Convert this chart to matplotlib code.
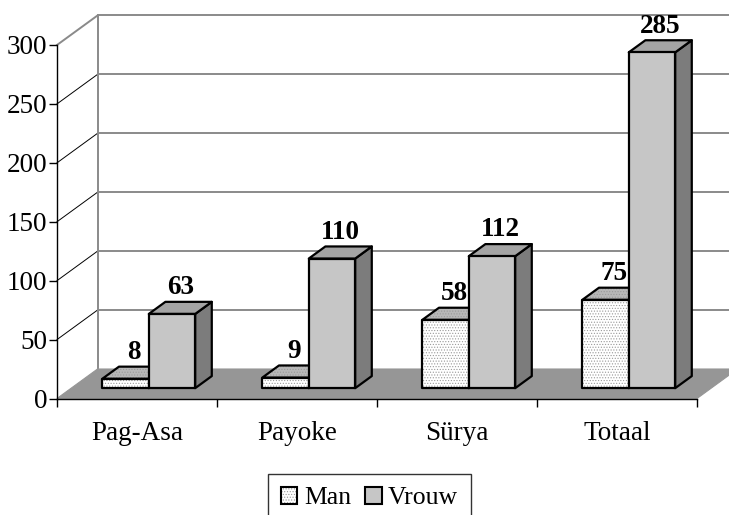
import matplotlib
matplotlib.use("Agg")
import matplotlib.pyplot as plt
from matplotlib.patches import Polygon, Patch
from matplotlib.legend_handler import HandlerTuple

categories = ["Pag-Asa", "Payoke", "Sürya", "Totaal"]
series_names = ["Man", "Vrouw"]
man = [8, 9, 58, 75]
vrouw = [63, 110, 112, 285]
yticks = [0, 50, 100, 150, 200, 250, 300]

plt.rcParams['font.family'] = ['Liberation Serif', 'DejaVu Serif']
plt.rcParams['hatch.linewidth'] = 0.5

W, H = 729, 515
fig = plt.figure(figsize=(W / 100, H / 100), dpi=100)
x0px, x1px, y0px, y1px = 57, 697, 398.5, 45
ax = fig.add_axes([x0px / W, 1 - y0px / H, (x1px - x0px) / W, (y0px - y1px) / H])
ax.set_xlim(0, len(categories))
ax.set_ylim(0, 300)

# depth vector in data units (oblique projection)
DX = 40.5 / 160.0
DY = 29.5 / ((y0px - y1px) / 300.0)

# floor
floor = Polygon([(0, 0), (DX, DY), (len(categories) + DX, DY), (len(categories), 0)],
                closed=True, facecolor='#969696', edgecolor='#969696', lw=0.8,
                clip_on=False, zorder=1)
ax.add_patch(floor)

# back wall gridlines + side wall diagonals
for v in yticks:
    if v > 0:
        ax.plot([DX, len(categories) + DX + 0.2], [v + DY, v + DY], color='#8a8a8a',
                lw=1.4, clip_on=False, zorder=0.5, solid_capstyle='butt')
    col = '#8a8a8a' if v == 300 else 'black'
    lw = 1.4 if v == 300 else 0.7
    if v > 0:
        ax.plot([0, DX], [v, v + DY], color=col, lw=lw, clip_on=False, zorder=0.6)
ax.plot([DX, DX], [DY, 300 + DY], color='#8a8a8a', lw=1.4, clip_on=False, zorder=0.6)

# bars
c0 = 0.195
w = 0.29
d0 = 0.35
dd = 0.41
front_cols = ['white', '#c6c6c6']
top_cols = ['#b8b8b8', '#a4a4a4']
side_cols = ['#7c7c7c', '#7c7c7c']
hatches = ['......', None]
lw_bar = 1.6
z = 3
for i in range(len(categories)):
    for j, vals in enumerate([man, vrouw]):
        v = vals[i]
        bx = i + c0 + j * w + d0 * DX
        by = d0 * DY
        ddx, ddy = dd * DX, dd * DY
        side = [(bx + w, by), (bx + w + ddx, by + ddy), (bx + w + ddx, by + v + ddy), (bx + w, by + v)]
        top = [(bx, by + v), (bx + w, by + v), (bx + w + ddx, by + v + ddy), (bx + ddx, by + v + ddy)]
        front = [(bx, by), (bx + w, by), (bx + w, by + v), (bx, by + v)]
        for poly, fc in [(side, side_cols[j]), (top, top_cols[j]), (front, front_cols[j])]:
            if hatches[j] is not None:
                ax.add_patch(Polygon(poly, closed=True, facecolor=fc, edgecolor='#9a9a9a',
                                     hatch=hatches[j], lw=0, clip_on=False, zorder=z))
                ax.add_patch(Polygon(poly, closed=True, facecolor='none', edgecolor='black',
                                     lw=lw_bar, joinstyle='round', clip_on=False, zorder=z + 0.01))
            else:
                ax.add_patch(Polygon(poly, closed=True, facecolor=fc, edgecolor='black',
                                     lw=lw_bar, joinstyle='round', clip_on=False, zorder=z))
            z += 0.02
        ax.text(bx + w / 2 + ddx / 2, by + v + ddy + 6.5, str(v), ha='center', va='baseline',
                fontsize=19.5, fontweight='bold', zorder=z, clip_on=False)
        z += 0.02

# axes styling
for s in ['top', 'right']:
    ax.spines[s].set_visible(False)
ax.spines['left'].set_color('black')
ax.spines['bottom'].set_color('black')
ax.spines['left'].set_linewidth(1.0)
ax.spines['bottom'].set_linewidth(1.0)
ax.spines['left'].set_zorder(2)
ax.spines['bottom'].set_zorder(2)
ax.patch.set_visible(False)
ax.set_yticks(yticks)
ax.set_yticklabels([str(t) for t in yticks], fontsize=19.5)
ax.tick_params(axis='y', direction='out', length=6, width=1, pad=1)
ax.set_xticks(range(len(categories) + 1))
ax.set_xticklabels([''] * (len(categories) + 1))
ax.set_xticks([i + 0.5 for i in range(len(categories))], minor=True)
ax.set_xticklabels(categories, minor=True, fontsize=19.5)
ax.tick_params(axis='x', which='major', direction='out', length=6, width=1)
ax.tick_params(axis='x', which='minor', length=0, pad=16)

# legend
h_man = (Patch(facecolor='white', edgecolor='#9a9a9a', hatch='......', lw=0),
         Patch(facecolor='none', edgecolor='black', lw=1.5))
h_vrouw = Patch(facecolor='#c6c6c6', edgecolor='black', lw=1.5)
leg = fig.legend([h_man, h_vrouw], series_names,
                 handler_map={tuple: HandlerTuple(ndivide=1, pad=0)},
                 loc='upper center', bbox_to_anchor=(369.5 / W, 1 - 474 / H),
                 ncol=2, fontsize=18.5, frameon=True, fancybox=False,
                 handlelength=0.65, handleheight=0.65, handletextpad=0.25,
                 columnspacing=0.55, borderpad=0.5, borderaxespad=0)
leg.get_frame().set_edgecolor('black')
leg.get_frame().set_linewidth(1.0)

fig.savefig("out.png", dpi=100)
